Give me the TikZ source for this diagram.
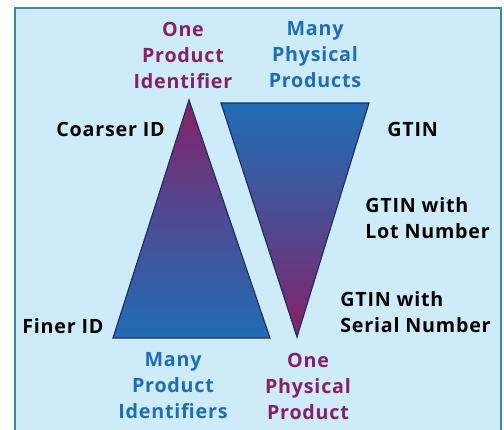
\documentclass[tikz,border=0pt]{standalone}
\usepackage{fontspec}
\setmainfont[LetterSpace=4]{Open Sans}
\usetikzlibrary{shadings}
\definecolor{idpurple}{HTML}{862166}
\definecolor{idblue}{HTML}{1F6DB6}
\definecolor{panel}{HTML}{CDEBF8}
\definecolor{frame}{HTML}{3A8E9C}
\definecolor{edge}{HTML}{1C2F5E}
\pgfdeclareverticalshading{downblue}{100bp}{color(0bp)=(idblue); color(25bp)=(idblue); color(50bp)=(idblue!55!idpurple); color(75bp)=(idpurple); color(100bp)=(idpurple)}
\pgfdeclareverticalshading{uppurple}{100bp}{color(0bp)=(idpurple); color(25bp)=(idpurple); color(50bp)=(idpurple!45!idblue); color(75bp)=(idblue); color(100bp)=(idblue)}
\tikzset{
  lbl/.style={font=\fontsize{14}{18.5}\selectfont\bfseries, inner sep=0pt, align=center},
  side/.style={lbl, black, align=left},
  tri/.style={draw=edge, line width=0.8pt, line join=miter}
}

\begin{document}
\begin{tikzpicture}
            \useasboundingbox (0,0) rectangle (12.6,10.75);
            \draw[frame, fill=panel, line width=1.2pt] (0.375,-0.5) rectangle (12.525,10.55);

            % the two triangles
            \shade[tri, shading=downblue] (4.725,8.25) -- (6.75,2.3) -- (2.825,2.3) -- cycle;
            \shade[tri, shading=uppurple] (5.525,8.175) -- (9.225,8.175) -- (7.425,2.325) -- cycle;

            \node[lbl, idpurple] (oneid) at(4.575, 9.375) {One\\Product\\Identifier};
            \node[lbl, idblue] (manyphys) at(7.875, 9.375) {Many\\Physical\\Products};
            \node[lbl, idblue] (manyid) at(4.325, 1.1) {Many\\Product\\Identifiers};
            \node[lbl, idpurple] (onephys) at(7.7, 1.1) {One\\Physical\\Product};

            \node[side, anchor=east] (coarse) at(4.125, 7.525) {Coarser ID};
            \node[side, anchor=west] (finer) at(0.55, 2.6) {Finer ID};
            \node[side, anchor=west] (gtin) at(9.675, 7.525) {GTIN};
            \node[side, anchor=west] (gtinlot) at(9.125, 5.3) {GTIN with\\Lot Number};
            \node[side, anchor=west] (gtinser) at(8.5, 2.95) {GTIN with\\Serial Number};
        \end{tikzpicture}
\end{document}
